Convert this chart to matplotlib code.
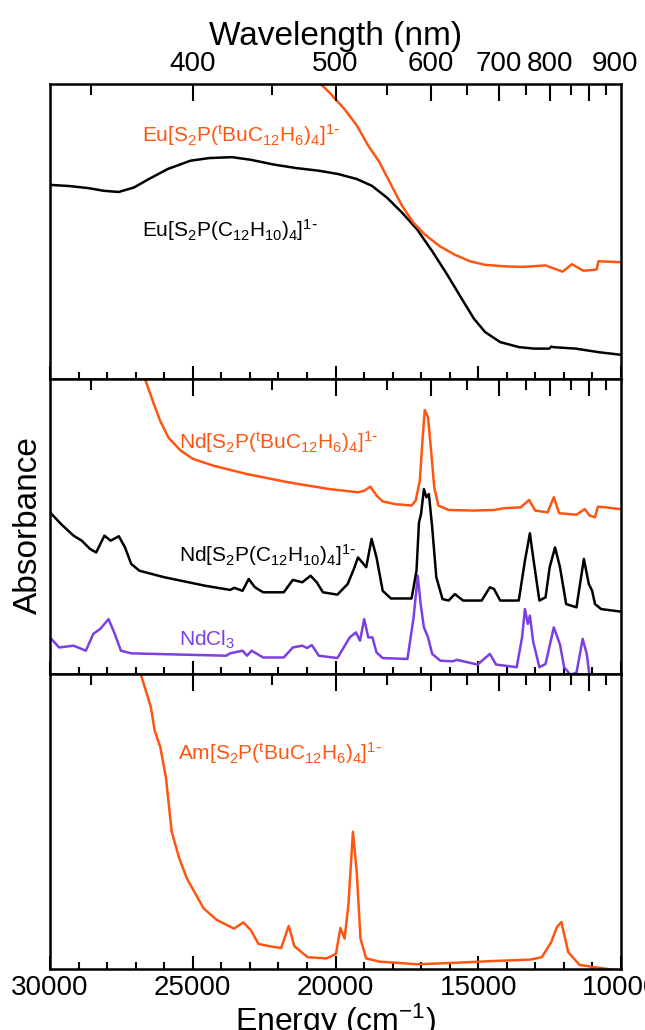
"""Stacked absorption spectra (Eu, Nd, Am dithiophosphinates) on an energy axis
with a wavelength scale along the top of each panel."""
import matplotlib.pyplot as plt
from matplotlib.ticker import FixedLocator, MultipleLocator
from matplotlib.transforms import ScaledTranslation

plt.rcParams["font.family"] = ["Liberation Sans", "DejaVu Sans"]
plt.rcParams["mathtext.default"] = "regular"

ORANGE = "#ff5511"
PURPLE = "#7b3fe4"
BLACK = "#000000"

# energies in cm-1, absorbance in arbitrary (panel) units
eu_tbu_e = [20700, 20514, 20183, 19919, 19654, 19257, 18860, 18463, 18067, 17670,
            17273, 16876, 16346, 15817, 15288, 14759, 14098, 13436, 12643, 12048,
            11716, 11320, 10923, 10850, 10791, 10000]
eu_tbu_a = [1.03, 1.0, 0.968, 0.940, 0.911, 0.860, 0.792, 0.735, 0.661, 0.587,
            0.530, 0.490, 0.450, 0.421, 0.399, 0.387, 0.382, 0.380, 0.385, 0.364,
            0.389, 0.367, 0.370, 0.372, 0.399, 0.396]

eu_h_e = [30000, 29312, 28650, 28121, 27592, 27063, 26534, 25872, 25078, 24417,
          23623, 22962, 22168, 21374, 20580, 19919, 19257, 18728, 18199, 17670,
          17140, 16611, 16082, 15553, 15156, 14759, 14230, 13568, 13039, 12510,
          12440, 12378, 11584, 10790, 10000]
eu_h_a = [0.658, 0.654, 0.647, 0.638, 0.634, 0.649, 0.678, 0.712, 0.740, 0.749,
          0.752, 0.743, 0.727, 0.715, 0.706, 0.695, 0.678, 0.655, 0.615, 0.564,
          0.507, 0.433, 0.353, 0.268, 0.205, 0.159, 0.125, 0.108, 0.103, 0.103,
          0.110, 0.108, 0.103, 0.091, 0.082]

nd_tbu_e = [26700, 26650, 26361, 26144, 25856, 25422, 24989, 24267, 23112, 21668,
            20224, 19213, 18996, 18780, 18563, 18347, 17914, 17336, 17191, 17047,
            16946, 16874, 16758, 16642, 16542, 16397, 16036, 15170, 14448, 14087,
            13509, 13220, 13004, 12571, 12354, 12166, 11560, 11271, 11098, 10910,
            10809, 10549, 10043]
nd_tbu_a = [1.03, 0.994, 0.915, 0.859, 0.802, 0.757, 0.729, 0.706, 0.678, 0.650,
            0.627, 0.616, 0.621, 0.635, 0.605, 0.585, 0.576, 0.571, 0.588, 0.655,
            0.802, 0.895, 0.870, 0.746, 0.633, 0.571, 0.556, 0.554, 0.556, 0.562,
            0.565, 0.590, 0.554, 0.548, 0.599, 0.545, 0.540, 0.559, 0.537, 0.531,
            0.567, 0.565, 0.559]

nd_h_e = [30000, 29610, 29177, 28888, 28599, 28383, 28094, 27877, 27589, 27372,
          27155, 26866, 25999, 24555, 23689, 23545, 23256, 23040, 22823, 22534,
          21812, 21495, 21162, 20873, 20657, 20440, 19935, 19574, 19357, 19213,
          19069, 18924, 18736, 18563, 18347, 18058, 17336, 17163, 17076, 17004,
          16903, 16816, 16729, 16613, 16469, 16252, 16036, 15819, 15531, 14881,
          14592, 14448, 14231, 13581, 13365, 13191, 13076, 12859, 12643, 12498,
          12310, 12137, 11921, 11560, 11300, 11127, 11011, 10910, 10693, 10043]
nd_h_a = [0.548, 0.508, 0.469, 0.452, 0.424, 0.412, 0.469, 0.452, 0.467, 0.429,
          0.373, 0.350, 0.328, 0.299, 0.285, 0.292, 0.282, 0.322, 0.294, 0.277,
          0.277, 0.319, 0.311, 0.333, 0.311, 0.277, 0.269, 0.305, 0.356, 0.395,
          0.379, 0.362, 0.458, 0.395, 0.282, 0.256, 0.256, 0.350, 0.514, 0.542,
          0.627, 0.599, 0.610, 0.497, 0.328, 0.254, 0.249, 0.271, 0.249, 0.249,
          0.294, 0.288, 0.249, 0.249, 0.384, 0.477, 0.395, 0.249, 0.260, 0.362,
          0.429, 0.362, 0.237, 0.226, 0.390, 0.305, 0.282, 0.237, 0.220, 0.212]

ndcl3_e = [30000, 29682, 29177, 28744, 28484, 28238, 27949, 27733, 27516, 27155,
           23834, 23689, 23256, 23100, 22939, 22534, 21812, 21495, 21162, 21000,
           20830, 20584, 19935, 19502, 19285, 19141, 18996, 18852, 18707, 18563,
           18347, 17480, 17264, 17119, 17018, 16903, 16758, 16613, 16325, 15892,
           15747, 15025, 14592, 14376, 13653, 13466, 13365, 13264, 13191, 13076,
           12859, 12643, 12354, 12137, 11993, 11776, 11560, 11343, 11199, 11098]
ndcl3_a = [0.124, 0.090, 0.096, 0.079, 0.136, 0.153, 0.186, 0.136, 0.079, 0.070,
           0.062, 0.070, 0.079, 0.062, 0.079, 0.056, 0.056, 0.090, 0.096, 0.088,
           0.098, 0.062, 0.054, 0.124, 0.141, 0.113, 0.186, 0.124, 0.124, 0.073,
           0.054, 0.051, 0.192, 0.333, 0.237, 0.158, 0.124, 0.068, 0.045, 0.043,
           0.048, 0.032, 0.068, 0.032, 0.023, 0.124, 0.220, 0.170, 0.198, 0.110,
           0.023, 0.034, 0.158, 0.100, 0.023, -0.002, 0.004, 0.119, 0.068, -0.010]

am_tbu_e = [26870, 26825, 26667, 26468, 26336, 26137, 25939, 25740, 25476, 25211,
            24946, 24616, 24153, 23557, 23226, 22962, 22697, 22300, 21903, 21639,
            21440, 20977, 20316, 19985, 19827, 19681, 19549, 19390, 19257, 19125,
            18926, 18463, 17140, 15817, 14494, 13171, 12775, 12444, 12246, 12087,
            11981, 11849, 11452, 10923, 10000]
am_tbu_a = [1.03, 1.0, 0.951, 0.888, 0.809, 0.752, 0.649, 0.467, 0.376, 0.308,
            0.262, 0.205, 0.166, 0.137, 0.158, 0.131, 0.085, 0.077, 0.071, 0.146,
            0.077, 0.040, 0.036, 0.051, 0.139, 0.103, 0.216, 0.465, 0.330, 0.103,
            0.036, 0.025, 0.016, 0.021, 0.027, 0.032, 0.040, 0.091, 0.142, 0.159,
            0.114, 0.057, 0.014, 0.006, -0.006]

wl_major = [400, 500, 600, 700, 800, 900]
wl_minor = [350, 450, 550, 650, 750, 850, 950]

NAME_TBU = r"[S$_2$P($^t$BuC$_{12}$H$_6$)$_4$]$^{1\text{-}}$"
NAME_H = r"[S$_2$P(C$_{12}$H$_{10}$)$_4$]$^{1\text{-}}$"
FS_NAME = 15


def style_panel(ax, energy_labels, wl_labels):
    ax.set_xlim(30000, 10000)
    ax.set_ylim(0, 1)
    ax.set_yticks([])
    ax.xaxis.set_major_locator(MultipleLocator(5000))
    ax.xaxis.set_minor_locator(MultipleLocator(1000))
    ax.tick_params(axis="x", which="both", direction="in", width=1.5,
                   labelsize=20, labelbottom=energy_labels, pad=4)
    ax.tick_params(axis="x", which="major", length=9.5)
    ax.tick_params(axis="x", which="minor", length=5)
    for spine in ax.spines.values():
        spine.set_linewidth(1.8)

    wl = ax.twiny()
    wl.set_xlim(ax.get_xlim())
    wl.set_xticks([1e7 / w for w in wl_major])
    wl.set_xticklabels([str(w) for w in wl_major])
    wl.xaxis.set_minor_locator(FixedLocator([1e7 / w for w in wl_minor]))
    wl.tick_params(axis="x", which="both", direction="in", width=1.5,
                   labelsize=20, labeltop=wl_labels, pad=5)
    wl.tick_params(axis="x", which="major", length=12)
    wl.tick_params(axis="x", which="minor", length=8)
    for spine in wl.spines.values():
        spine.set_visible(False)
    return wl


fig = plt.figure(figsize=(6.45, 10.30), dpi=100)
left, width = 50 / 645, 571 / 645
bottom, height = 61 / 1030, 295 / 1030
ax_top = fig.add_axes([left, bottom + 2 * height, width, height])
ax_mid = fig.add_axes([left, bottom + height, width, height])
ax_bot = fig.add_axes([left, bottom, width, height])

lw = 1.8
ax_top.plot(eu_h_e, eu_h_a, color=BLACK, lw=lw)
ax_top.plot(eu_tbu_e, eu_tbu_a, color=ORANGE, lw=lw)
ax_top.text(26772, 0.803, "Eu" + NAME_TBU, color=ORANGE, fontsize=FS_NAME)
ax_top.text(26772, 0.481, "Eu" + NAME_H, color=BLACK, fontsize=FS_NAME)

ax_mid.plot(ndcl3_e, ndcl3_a, color=PURPLE, lw=lw)
ax_mid.plot(nd_h_e, nd_h_a, color=BLACK, lw=lw)
ax_mid.plot(nd_tbu_e, nd_tbu_a, color=ORANGE, lw=lw)
ax_mid.text(25494, 0.763, "Nd" + NAME_TBU, color=ORANGE, fontsize=FS_NAME)
ax_mid.text(25494, 0.379, "Nd" + NAME_H, color=BLACK, fontsize=FS_NAME)
ax_mid.text(25494, 0.096, "NdCl$_3$", color=PURPLE, fontsize=FS_NAME)

ax_bot.plot(am_tbu_e, am_tbu_a, color=ORANGE, lw=lw)
ax_bot.text(25502, 0.708, "Am" + NAME_TBU, color=ORANGE, fontsize=FS_NAME)

wl_top = style_panel(ax_top, False, True)
style_panel(ax_mid, False, False)
style_panel(ax_bot, True, False)

# the 900 nm label sits a little right of its tick, clear of the 800 label
lab900 = wl_top.xaxis.get_major_ticks()[-1].label2
lab900.set_transform(lab900.get_transform()
                     + ScaledTranslation(0.26, 0, fig.dpi_scale_trans))

wl_top.set_xlabel("Wavelength (nm)", fontsize=24, labelpad=4)
ax_bot.set_xlabel("Energy (cm$^{-1}$)", fontsize=23, labelpad=1)
fig.text(28 / 645, 1 - 525 / 1030, "Absorbance", rotation=90, fontsize=24,
         ha="center", va="center")

fig.savefig("out.png", dpi=100)
